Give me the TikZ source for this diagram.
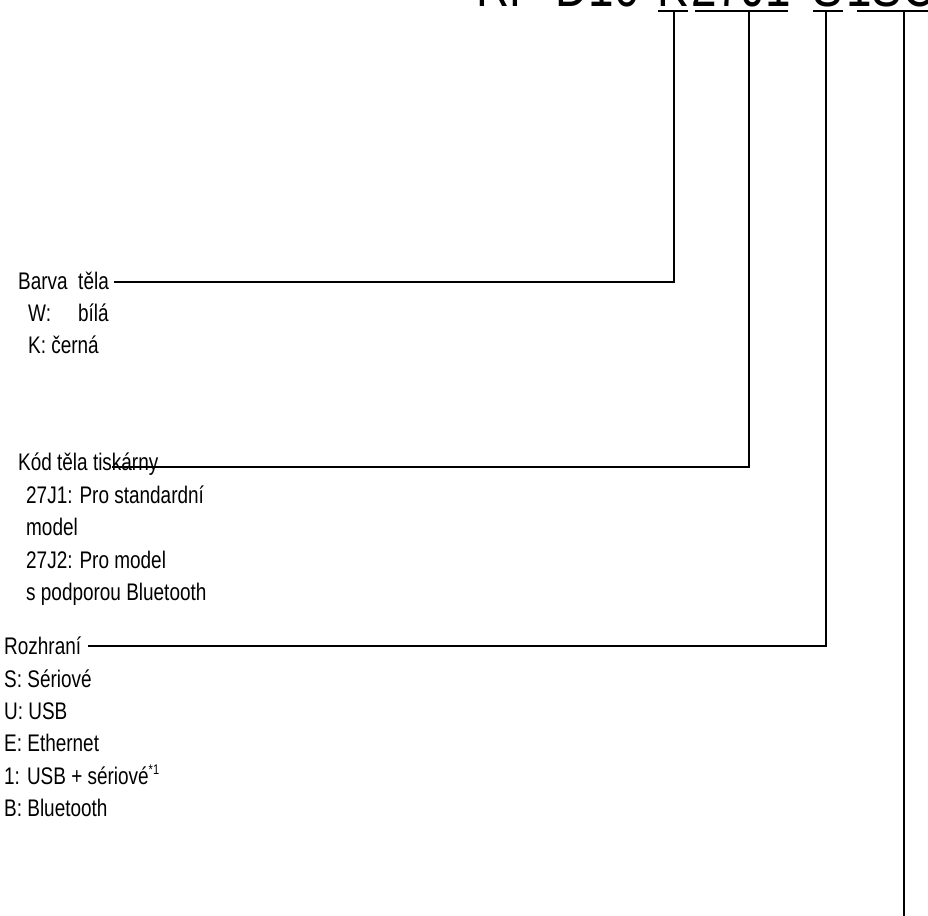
\documentclass[tikz,border=0pt]{standalone}
\usepackage{fontspec}
\setmainfont{Liberation Sans}[FakeStretch=0.79]
\begin{document}
\begin{tikzpicture}[x=1pt,y=-1pt,
  lbl/.style={anchor=base west, inner sep=0pt, font=\fontsize{24}{28}\selectfont},
  ttl/.style={anchor=base, inner sep=0pt, font=\fontsize{58}{64}\selectfont},
  conn/.style={line width=1.7pt},
  uline/.style={line width=1.7pt}]
\useasboundingbox (0,0) rectangle (928,915);
\clip (0,0) rectangle (928,915);
% title (clipped at top)
\node[ttl,anchor=base east] (tRP) at (655,7) {RP-D10-};
\node[ttl] (tK) at (673,7) {K};
\node[ttl] (t27) at (741,7) {27J1};
\node[ttl] (tdash) at (800,7) {-};
\node[ttl] (tS) at (828,7) {S};
\node[ttl,anchor=base west] (tRest) at (846,7) {1SC3};
% underline coordinates
\coordinate (uKa) at (658,11); \coordinate (uKb) at (688,11);
\coordinate (u2a) at (695,11); \coordinate (u2b) at (788,11);
\coordinate (uSa) at (813,11); \coordinate (uSb) at (843,11);
\coordinate (uLa) at (857,11); \coordinate (uLb) at (930,11);
\draw[uline] (uKa) -- (uKb);
\draw[uline] (u2a) -- (u2b);
\draw[uline] (uSa) -- (uSb);
\draw[uline] (uLa) -- (uLb);
\coordinate (uK) at (674,11);
\coordinate (u27) at (749,11);
\coordinate (uS) at (826,11);
\coordinate (uL) at (904,11);
% labels
\node[lbl] (barva) at (18,289) {Barva~ těla};
\node[lbl] (bw) at (28,321) {W:\hspace{27pt}bílá};
\node[lbl] (bk) at (28,353) {K: černá};
\node[lbl] (kod) at (18,470) {Kód těla tiskárny};
\node[lbl] (k1) at (26,503) {27J1: Pro standardní};
\node[lbl] (k1b) at (26,535) {model};
\node[lbl] (k2) at (26,568) {27J2: Pro model};
\node[lbl] (k2b) at (26,600) {s podporou Bluetooth};
\node[lbl] (roz) at (4,654) {Rozhraní};
\node[lbl] (rs) at (4,687) {S: Sériové};
\node[lbl] (ru) at (4,719) {U: USB};
\node[lbl] (re) at (4,751) {E: Ethernet};
\node[lbl] (r1) at (4,784) {1: USB + sériové\raisebox{10pt}{\fontsize{14}{14}\selectfont *1}};
\node[lbl] (rb) at (4,816) {B: Bluetooth};
% connectors
\coordinate (bEnd) at (114,282);
\coordinate (kEnd) at (112,467);
\coordinate (rEnd) at (88,646);
\coordinate (bot) at (904,916);
\draw[conn] (bEnd) -| (uK);
\draw[conn] (kEnd) -| (u27);
\draw[conn] (rEnd) -| (uS);
\draw[conn] (uL) -- (bot);
\end{tikzpicture}
\end{document}
